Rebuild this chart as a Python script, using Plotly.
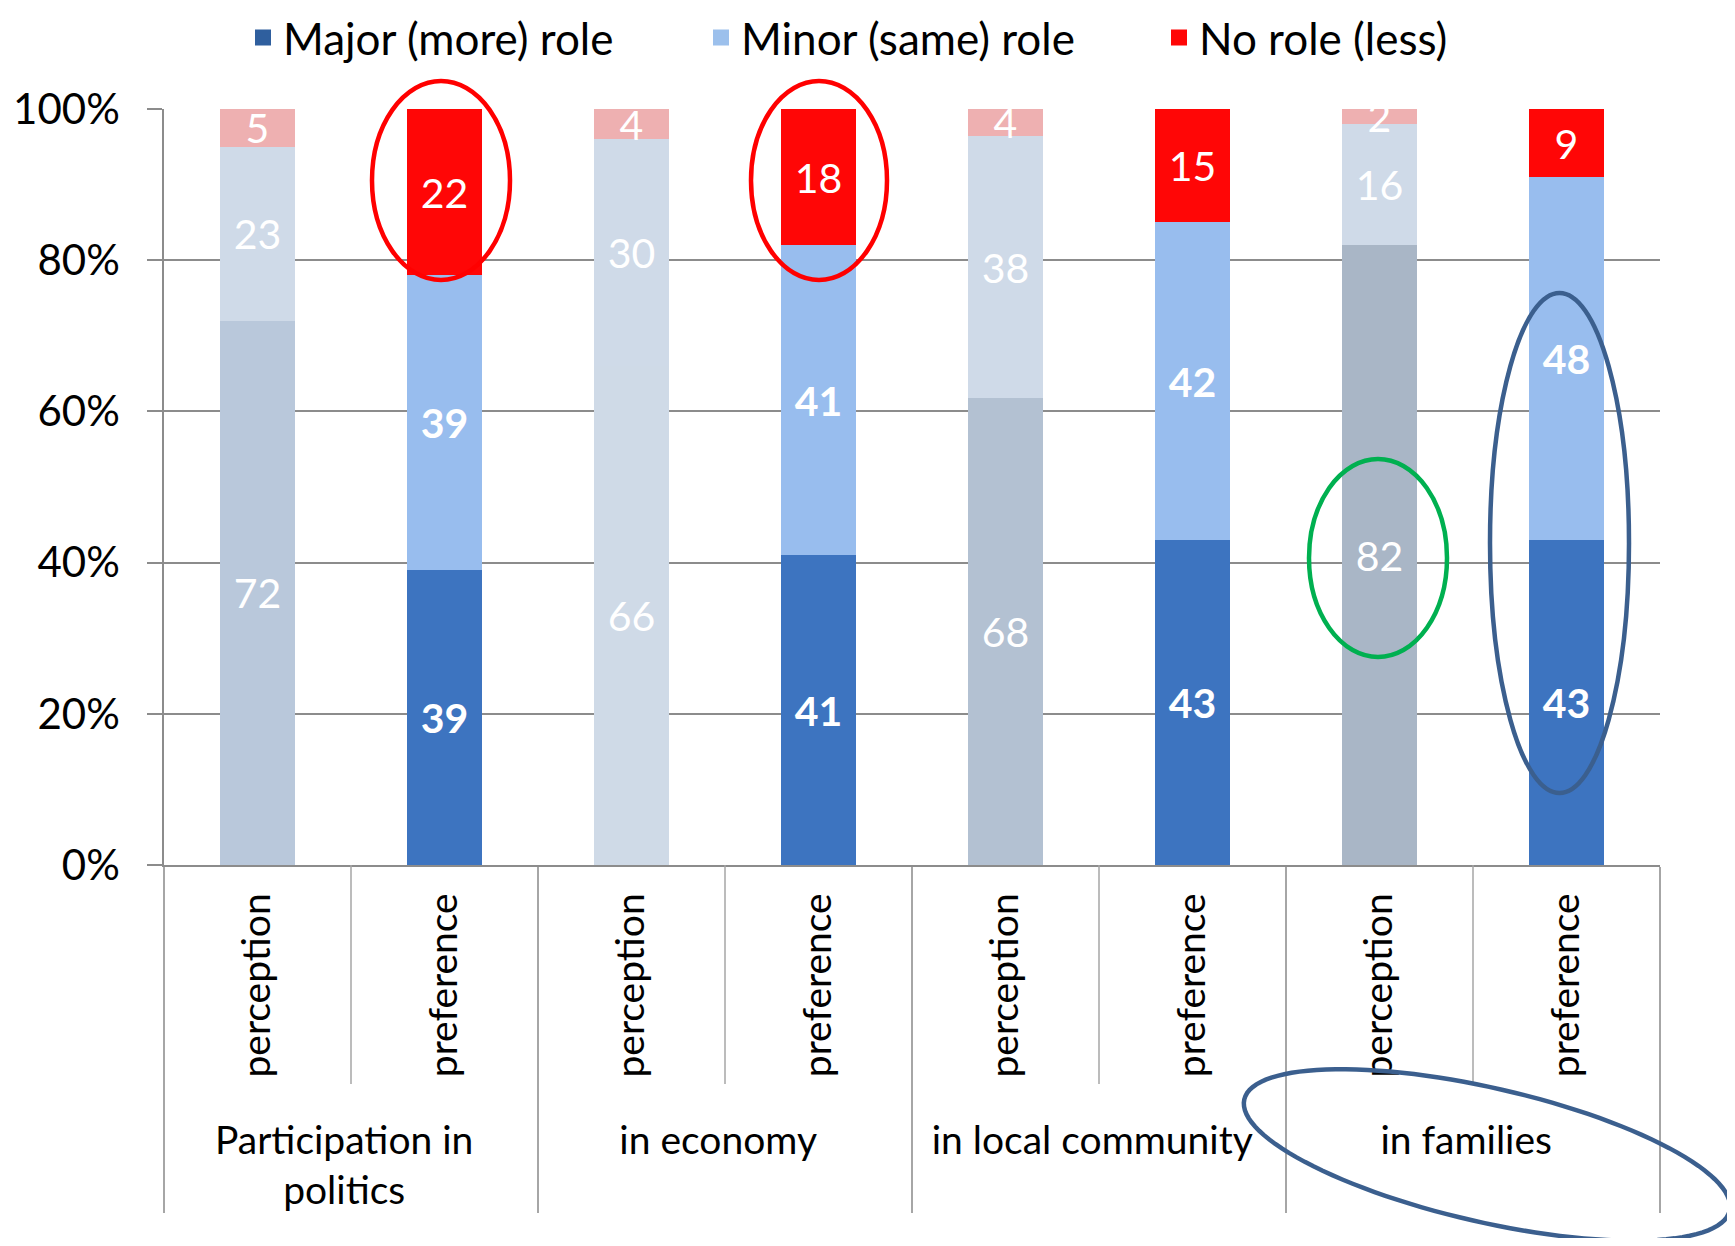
import numpy as np
import plotly.graph_objects as go

groups = ["Participation in<br>politics", "Participation in<br>politics",
          "in economy", "in economy",
          "in local community", "in local community",
          "in families", "in families"]
subs = ["perception", "preference"] * 4

major = [72, 39, 66, 41, 68, 43, 82, 43]
minor = [23, 39, 30, 41, 38, 42, 16, 48]
norole = [5, 22, 4, 18, 4, 15, 2, 9]

series_names = ["Major (more) role", "Minor (same) role", "No role (less)"]

major_colors = ["#b9c8db", "#3d74c0", "#cfdae7", "#3d74c0", "#b3c1d2", "#3d74c0", "#a9b6c6", "#3d74c0"]
minor_colors = ["#cfdae8", "#98bdee", "#cfdae8", "#98bdee", "#cfdae8", "#98bdee", "#cfdae8", "#98bdee"]
norole_colors = ["#eeb0b1", "#ff0606", "#eeb0b1", "#ff0606", "#eeb0b1", "#ff0606", "#eeb0b1", "#ff0606"]
legend_colors = ["#2f5f9e", "#9cc0ec", "#ff0606"]

FONT = "Lato, 'Open Sans', sans-serif"
PAD = "\u00a0\u2009"  # keeps the rotated sub-labels clear of the group labels
xsubs = [PAD + s for s in subs]

def labels(vals, bold_pref):
    out = []
    for v, s in zip(vals, subs):
        t = str(v)
        if bold_pref and s == "preference":
            t = "<b>" + t + "</b>"
        out.append(t)
    return out

fig = go.Figure()
for name, vals, cols, bold in [
    (series_names[0], major, major_colors, True),
    (series_names[1], minor, minor_colors, True),
    (series_names[2], norole, norole_colors, False),
]:
    fig.add_trace(go.Bar(
        x=[groups, xsubs], y=vals, name=name, showlegend=False, legendgroup=name,
        marker=dict(color=cols, line=dict(width=0)),
        text=labels(vals, bold),
        textposition="inside", insidetextanchor="middle", textangle=0,
        constraintext="none", cliponaxis=False,
        textfont=dict(color="white", size=41, family=FONT),
        hoverinfo="skip",
    ))

# legend entries (square swatches in the preference colours)
for name, lc in zip(series_names, legend_colors):
    fig.add_trace(go.Scatter(
        x=[[groups[-1]], [xsubs[-1]]], y=[None], mode="markers", name=name, legendgroup=name,
        marker=dict(symbol="square", size=16, color=lc), hoverinfo="skip",
    ))

# page offset (html body margin) and target plot area in screen pixels
OFF = 8
W, H = 1735 - 2 * OFF, 1246 - 2 * OFF
PX0, PX1, PY0, PY1 = 164, 1660, 109, 865
pw, ph = PX1 - PX0, PY1 - PY0
L, T = PX0 - OFF, PY0 - OFF
R, B = W - L - pw, H - T - ph

def px(x):
    return (x - PX0) / pw

def py(y):
    return (PY1 - y) / ph

shapes = []
# inner category boundary lines
for k in [1, 3, 5, 7]:
    shapes.append(dict(type="line", xref="paper", yref="paper", x0=k / 8, x1=k / 8,
                       y0=0, y1=py(1084), line=dict(color="#a6a6a6", width=1.5)))

def ell(x0, y0, x1, y1, color):
    return dict(type="circle", xref="paper", yref="paper",
                x0=px(x0), x1=px(x1), y0=py(y1), y1=py(y0),
                line=dict(color=color, width=4.5))

shapes.append(ell(372, 81, 510, 280, "#ff0000"))
shapes.append(ell(751, 81, 887, 280, "#ff0000"))
shapes.append(ell(1309, 459, 1447, 657, "#00b050"))
shapes.append(ell(1490, 293, 1629, 793, "#3b5f8e"))

# rotated ellipse around "in families"
cx, cy, a, b, th = 1487, 1155, 249, 67, np.deg2rad(12.9)
tt = np.linspace(0, 2 * np.pi, 121)
ex = cx + a * np.cos(tt) * np.cos(th) - b * np.sin(tt) * np.sin(th)
ey = cy + a * np.cos(tt) * np.sin(th) + b * np.sin(tt) * np.cos(th)
path = "M " + " L ".join(f"{px(xx):.5f},{py(yy):.5f}" for xx, yy in zip(ex, ey)) + " Z"
shapes.append(dict(type="path", xref="paper", yref="paper", path=path,
                   line=dict(color="#3b5f8e", width=4.5)))

fig.update_layout(
    width=W, height=H,
    margin=dict(l=L, r=R, t=T, b=B, autoexpand=False),
    barmode="stack", barnorm="percent", bargap=0.594,
    plot_bgcolor="white", paper_bgcolor="white",
    font=dict(family=FONT, color="black"),
    legend=dict(orientation="h", xref="paper", x=px(243), xanchor="left",
                yref="container", y=1 - 30 / H, yanchor="middle", itemsizing="trace",
                font=dict(size=44, family=FONT), entrywidth=413, traceorder="normal"),
    shapes=shapes,
    xaxis=dict(type="multicategory", tickangle=-90, tickfont=dict(size=39, family=FONT),
               showdividers=True, dividercolor="#a6a6a6", dividerwidth=1.5,
               showline=True, linecolor="#8c8c8c", linewidth=1.5, ticks="",
               ticklabelstandoff=11),
    yaxis=dict(range=[0, 100], dtick=20, ticksuffix="%", tickfont=dict(size=42, family=FONT),
               showgrid=True, gridcolor="#8c8c8c", gridwidth=1.5,
               showline=True, linecolor="#8c8c8c", linewidth=1.5,
               ticks="outside", ticklen=15, tickcolor="#8c8c8c", tickwidth=1.5,
               zeroline=False, ticklabelstandoff=19),
)

fig.write_html("out.html")
